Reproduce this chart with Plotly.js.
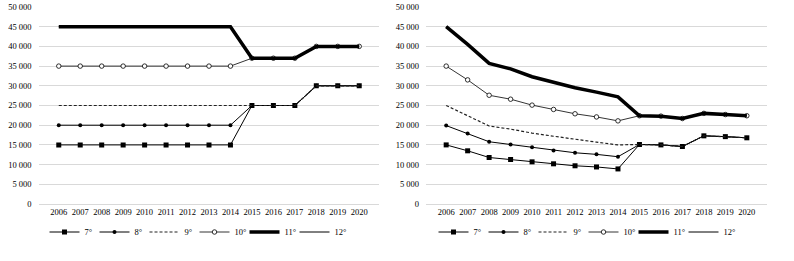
<!DOCTYPE html>
<html><head><meta charset="utf-8">
<script src="https://cdn.plot.ly/plotly-3.0.1.min.js"></script>
<style>html,body{margin:0;padding:0;background:#fff;}#chart{width:794px;height:261px;}</style>
</head><body><div id="chart"></div>
<script>
const years = ['2006','2007','2008','2009','2010','2011','2012','2013','2014','2015','2016','2017','2018','2019','2020'];
const seriesNames = ['7°','8°','9°','10°','11°','12°'];
// Left panel
const left7  = [15000,15000,15000,15000,15000,15000,15000,15000,15000,25000,25000,25000,30000,30000,30000];
const left8  = [20000,20000,20000,20000,20000,20000,20000,20000,20000,25000,25000,25000,30000,30000,30000];
const left9  = [25000,25000,25000,25000,25000,25000,25000,25000,25000,25000,25000,25000,30000,30000,30000];
const left10 = [35000,35000,35000,35000,35000,35000,35000,35000,35000,37000,37000,37000,40000,40000,40000];
const left11 = [45000,45000,45000,45000,45000,45000,45000,45000,45000,37000,37000,37000,40000,40000,40000];
const left12 = [45000,45000,45000,45000,45000,45000,45000,45000,45000,37000,37000,37000,40000,40000,40000];
// Right panel
const right7  = [15000,13500,11800,11300,10700,10200,9700,9400,8900,15100,15000,14600,17300,17100,16800];
const right8  = [19900,17900,15800,15100,14400,13600,13000,12600,12000,15100,15000,14600,17300,17100,16800];
const right9  = [25000,22300,19800,19000,18000,17200,16400,15700,15000,15100,15000,14600,17300,17100,16800];
const right10 = [35000,31500,27600,26600,25100,24000,22900,22100,21100,22400,22300,21700,23000,22700,22400];
const right11 = [45000,40500,35700,34300,32300,30900,29500,28400,27200,22400,22300,21700,23000,22700,22400];
const right12 = [45000,40500,35700,34300,32300,30900,29500,28400,27200,22400,22300,21700,23000,22700,22400];

const styles = [
  {line:{color:'#000',width:1}, marker:{symbol:'square',size:5,color:'#000'}, mode:'lines+markers'},
  {line:{color:'#000',width:1}, marker:{symbol:'circle',size:4,color:'#000'}, mode:'lines+markers'},
  {line:{color:'#222',width:1.2,dash:'3px,2px'}, mode:'lines'},
  {line:{color:'#000',width:0.8}, marker:{symbol:'circle',size:4.5,color:'#fff',line:{color:'#000',width:0.8}}, mode:'lines+markers'},
  {line:{color:'#000',width:3.5}, mode:'lines'},
  {line:{color:'#000',width:1}, mode:'lines', legendwidth:16}
];
const leftData = [left7,left8,left9,left10,left11,left12];
const rightData = [right7,right8,right9,right10,right11,right12];
const traces = [];
leftData.forEach((v,i)=>{
  traces.push(Object.assign({type:'scatter', x:years, y:v, name:seriesNames[i], xaxis:'x', yaxis:'y', legend:'legend'}, JSON.parse(JSON.stringify(styles[i]))));
});
rightData.forEach((v,i)=>{
  traces.push(Object.assign({type:'scatter', x:years, y:v, name:seriesNames[i], xaxis:'x2', yaxis:'y2', legend:'legend2'}, JSON.parse(JSON.stringify(styles[i]))));
});
const font = {family:'Liberation Serif, DejaVu Serif, serif', size:8.5, color:'#000'};
const yax = {range:[0,50000], dtick:5000, tick0:0, tickformat:',d', showgrid:true, gridcolor:'#d9d9d9', gridwidth:1, zeroline:false, showline:false, ticks:'', tickfont:font, ticklabelstandoff:6, fixedrange:true, automargin:false};
const xax = {type:'category', showgrid:false, zeroline:false, showline:true, linecolor:'#d9d9d9', linewidth:1, ticks:'', tickfont:font, tickangle:0, fixedrange:true, automargin:false};
const yTop = 1-7/261, yBot = 1-204/261;
const legendBase = {orientation:'h', xanchor:'center', yanchor:'middle', y:1-232/261, font:{family:font.family,size:8.5,color:'#000'}, bgcolor:'rgba(0,0,0,0)', itemwidth:30, entrywidth:5, entrywidthmode:'pixels', tracegroupgap:0};
const layout = {
  width:794, height:261,
  margin:{l:0,r:0,t:0,b:0, autoexpand:false},
  paper_bgcolor:'#fff', plot_bgcolor:'#fff',
  separators:'. ',
  showlegend:true,
  font:font,
  xaxis:Object.assign({}, xax, {domain:[38.6/794, 379.4/794], anchor:'y'}),
  yaxis:Object.assign({}, yax, {domain:[yBot,yTop], anchor:'x'}),
  xaxis2:Object.assign({}, xax, {domain:[426/794, 767/794], anchor:'y2'}),
  yaxis2:Object.assign({}, yax, {domain:[yBot,yTop], anchor:'x2'}),
  legend:Object.assign({}, legendBase, {x:200/794}),
  legend2:Object.assign({}, legendBase, {x:589/794})
};
Plotly.newPlot('chart', traces, layout, {displayModeBar:false, staticPlot:true});
</script></body></html>
